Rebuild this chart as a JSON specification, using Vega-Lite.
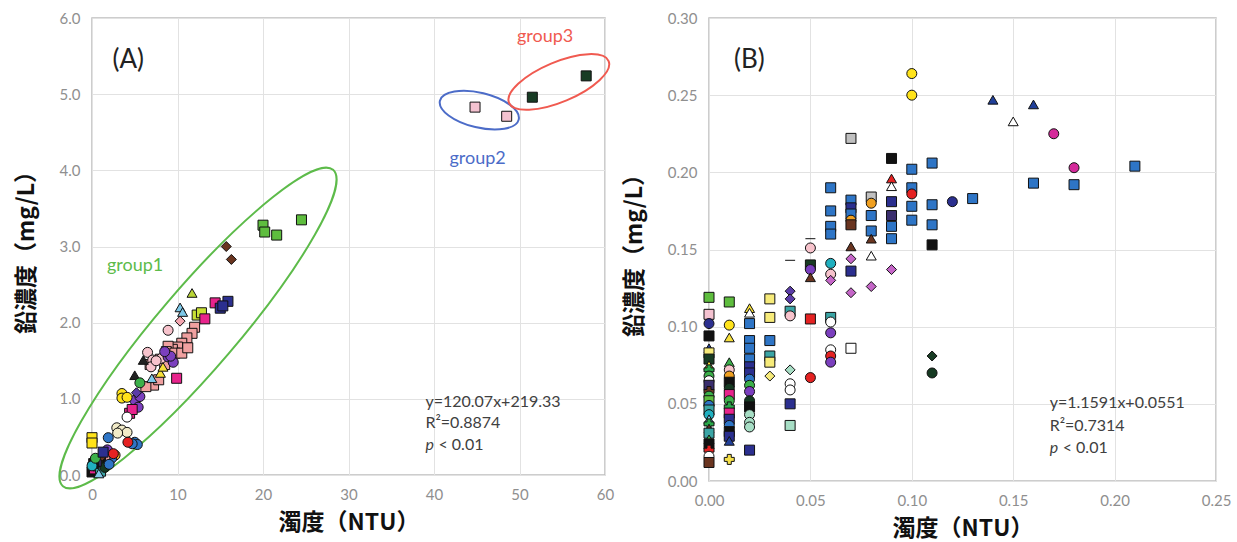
{
  "$schema": "https://vega.github.io/schema/vega-lite/v6.json",
  "padding": {"top": 10, "left": 14, "right": 5, "bottom": 3},
  "background": "white",
  "spacing": 7,
  "config": {
    "view": {"stroke": "#BDBDBD", "strokeWidth": 1.5},
    "axis": {
      "labelFont": "Lato", "labelFontSize": 15, "labelColor": "#8f8f8f", "labelFlush": false, "labelOverlap": false,
      "titleFont": "Noto Sans CJK JP", "titleFontSize": 23, "titleFontWeight": "bold", "titleColor": "#111111",
      "grid": true, "gridColor": "#E2E2E2", "domain": false, "ticks": false
    },
    "axisX": {"labelPadding": 12, "titlePadding": 9},
    "axisY": {"labelPadding": 12, "titlePadding": 21},
    "text": {"font": "Lato"}
  },
  "datasets": {
    "a": [
      {"x": 51.5, "y": 4.96, "s": "S8"}, {"x": 57.8, "y": 5.24, "s": "S8"},
      {"x": 44.8, "y": 4.83, "s": "S5"}, {"x": 48.5, "y": 4.71, "s": "S5"},
      {"x": 20.0, "y": 3.28, "s": "S3"}, {"x": 20.2, "y": 3.19, "s": "S3"}, {"x": 21.6, "y": 3.15, "s": "S3"}, {"x": 24.5, "y": 3.35, "s": "S3"},
      {"x": 15.7, "y": 3.0, "s": "S15"}, {"x": 16.3, "y": 2.83, "s": "S15"},
      {"x": 14.4, "y": 2.26, "s": "S6"}, {"x": 15.0, "y": 2.19, "s": "S7"}, {"x": 15.9, "y": 2.28, "s": "S7"}, {"x": 15.3, "y": 2.22, "s": "S7"},
      {"x": 11.7, "y": 2.39, "s": "S20"},
      {"x": 10.3, "y": 2.2, "s": "S22"}, {"x": 10.6, "y": 2.14, "s": "S22"},
      {"x": 12.3, "y": 2.1, "s": "S30"}, {"x": 12.8, "y": 2.13, "s": "S30"}, {"x": 13.2, "y": 2.05, "s": "S6"},
      {"x": 10.3, "y": 2.02, "s": "S45"},
      {"x": 12.0, "y": 1.94, "s": "S29"}, {"x": 11.7, "y": 1.86, "s": "S29"}, {"x": 11.1, "y": 1.8, "s": "S29"}, {"x": 10.5, "y": 1.73, "s": "S29"},
      {"x": 10.0, "y": 1.68, "s": "S29"}, {"x": 9.4, "y": 1.65, "s": "S29"}, {"x": 8.9, "y": 1.69, "s": "S29"}, {"x": 8.7, "y": 1.62, "s": "S29"},
      {"x": 9.7, "y": 1.6, "s": "S29"}, {"x": 10.5, "y": 1.6, "s": "S29"}, {"x": 11.2, "y": 1.67, "s": "S29"}, {"x": 8.0, "y": 1.52, "s": "S29"},
      {"x": 7.2, "y": 1.18, "s": "S29"}, {"x": 6.3, "y": 1.16, "s": "S29"}, {"x": 7.8, "y": 1.25, "s": "S29"}, {"x": 8.5, "y": 1.45, "s": "S29"}, {"x": 6.8, "y": 1.45, "s": "S29"},
      {"x": 8.9, "y": 1.9, "s": "S10"}, {"x": 6.5, "y": 1.61, "s": "S10"}, {"x": 7.1, "y": 1.51, "s": "S10"}, {"x": 8.1, "y": 1.53, "s": "S10"}, {"x": 6.9, "y": 1.42, "s": "S10"}, {"x": 7.5, "y": 1.5, "s": "S10"},
      {"x": 8.9, "y": 1.55, "s": "S13"}, {"x": 9.5, "y": 1.48, "s": "S13"}, {"x": 9.2, "y": 1.56, "s": "S13"}, {"x": 8.5, "y": 1.62, "s": "S13"},
      {"x": 5.0, "y": 0.98, "s": "S13"}, {"x": 5.4, "y": 0.89, "s": "S13"}, {"x": 5.6, "y": 1.03, "s": "S13"}, {"x": 5.2, "y": 1.08, "s": "S17"},
      {"x": 6.0, "y": 1.51, "s": "S36"}, {"x": 5.0, "y": 1.31, "s": "S36"},
      {"x": 8.0, "y": 1.34, "s": "S39"}, {"x": 8.3, "y": 1.42, "s": "S39"},
      {"x": 7.0, "y": 1.27, "s": "S22"}, {"x": 9.9, "y": 1.27, "s": "S6"}, {"x": 5.6, "y": 1.21, "s": "S41"},
      {"x": 3.5, "y": 1.07, "s": "S9"}, {"x": 3.5, "y": 1.01, "s": "S9"}, {"x": 4.1, "y": 1.02, "s": "S9"},
      {"x": 4.4, "y": 0.81, "s": "S6"}, {"x": 4.7, "y": 0.86, "s": "S6"}, {"x": 4.1, "y": 0.76, "s": "S11"},
      {"x": 2.9, "y": 0.62, "s": "S35"}, {"x": 3.5, "y": 0.59, "s": "S35"}, {"x": 4.1, "y": 0.56, "s": "S35"}, {"x": 3.0, "y": 0.55, "s": "S35"},
      {"x": 0.0, "y": 0.49, "s": "S46"}, {"x": 0.0, "y": 0.42, "s": "S46"},
      {"x": 1.9, "y": 0.49, "s": "S31"}, {"x": 5.0, "y": 0.43, "s": "S31"}, {"x": 5.3, "y": 0.4, "s": "S31"}, {"x": 4.7, "y": 0.41, "s": "S31"},
      {"x": 4.2, "y": 0.43, "s": "S12"},
      {"x": 1.8, "y": 0.33, "s": "S13"}, {"x": 2.7, "y": 0.26, "s": "S23"}, {"x": 2.3, "y": 0.22, "s": "S31"}, {"x": 1.5, "y": 0.2, "s": "S29"},
      {"x": 1.0, "y": 0.16, "s": "S2"}, {"x": 0.1, "y": 0.1, "s": "S2"}, {"x": 0.0, "y": 0.04, "s": "S2"}, {"x": 0.3, "y": 0.08, "s": "S6"},
      {"x": 0.7, "y": 0.12, "s": "S8"}, {"x": 1.0, "y": 0.05, "s": "S28"}, {"x": 1.5, "y": 0.1, "s": "S14"}, {"x": 2.0, "y": 0.14, "s": "S31"},
      {"x": 0.5, "y": 0.18, "s": "S37"}, {"x": 1.2, "y": 0.25, "s": "S15"}, {"x": 0.2, "y": 0.15, "s": "S2"}, {"x": 0.8, "y": 0.02, "s": "S22"},
      {"x": 2.5, "y": 0.28, "s": "S12"}, {"x": 0.0, "y": 0.12, "s": "S44"}, {"x": 0.4, "y": 0.22, "s": "S41"}, {"x": 1.3, "y": 0.3, "s": "S7"}
    ],
    "b": [
      {"x": 0.00, "y": 0.119, "s": "S3"}, {"x": 0.00, "y": 0.108, "s": "S5"}, {"x": 0.00, "y": 0.102, "s": "S51"}, {"x": 0.00, "y": 0.094, "s": "S2"},
      {"x": 0.00, "y": 0.086, "s": "S18"}, {"x": 0.00, "y": 0.083, "s": "S4"}, {"x": 0.00, "y": 0.079, "s": "S8"}, {"x": 0.00, "y": 0.075, "s": "S39"},
      {"x": 0.00, "y": 0.072, "s": "S32"}, {"x": 0.00, "y": 0.068, "s": "S41"}, {"x": 0.00, "y": 0.065, "s": "S11"}, {"x": 0.00, "y": 0.062, "s": "S37"},
      {"x": 0.00, "y": 0.058, "s": "S42"}, {"x": 0.00, "y": 0.055, "s": "S41"}, {"x": 0.00, "y": 0.052, "s": "S3"}, {"x": 0.00, "y": 0.049, "s": "S31"},
      {"x": 0.00, "y": 0.046, "s": "S28"}, {"x": 0.00, "y": 0.043, "s": "S44"}, {"x": 0.00, "y": 0.040, "s": "S22"}, {"x": 0.00, "y": 0.037, "s": "S32"},
      {"x": 0.00, "y": 0.034, "s": "S21"}, {"x": 0.00, "y": 0.031, "s": "S28"}, {"x": 0.00, "y": 0.027, "s": "S40"}, {"x": 0.00, "y": 0.024, "s": "S2"},
      {"x": 0.00, "y": 0.020, "s": "S43"}, {"x": 0.00, "y": 0.016, "s": "S11"}, {"x": 0.00, "y": 0.012, "s": "S53"},
      {"x": 0.01, "y": 0.116, "s": "S3"}, {"x": 0.01, "y": 0.101, "s": "S9"}, {"x": 0.01, "y": 0.093, "s": "S39"}, {"x": 0.01, "y": 0.077, "s": "S40"},
      {"x": 0.01, "y": 0.072, "s": "S10"}, {"x": 0.01, "y": 0.068, "s": "S23"}, {"x": 0.01, "y": 0.064, "s": "S2"}, {"x": 0.01, "y": 0.060, "s": "S14"},
      {"x": 0.01, "y": 0.056, "s": "S6"}, {"x": 0.01, "y": 0.052, "s": "S41"}, {"x": 0.01, "y": 0.048, "s": "S32"}, {"x": 0.01, "y": 0.044, "s": "S6"},
      {"x": 0.01, "y": 0.040, "s": "S7"}, {"x": 0.01, "y": 0.036, "s": "S31"}, {"x": 0.01, "y": 0.032, "s": "S2"}, {"x": 0.01, "y": 0.029, "s": "S7"},
      {"x": 0.01, "y": 0.026, "s": "S18"}, {"x": 0.01, "y": 0.014, "s": "S27"},
      {"x": 0.02, "y": 0.112, "s": "S39"}, {"x": 0.02, "y": 0.109, "s": "S19"}, {"x": 0.02, "y": 0.102, "s": "S1"}, {"x": 0.02, "y": 0.091, "s": "S1"},
      {"x": 0.02, "y": 0.086, "s": "S1"}, {"x": 0.02, "y": 0.079, "s": "S1"}, {"x": 0.02, "y": 0.074, "s": "S7"}, {"x": 0.02, "y": 0.070, "s": "S7"},
      {"x": 0.02, "y": 0.066, "s": "S31"}, {"x": 0.02, "y": 0.062, "s": "S41"}, {"x": 0.02, "y": 0.058, "s": "S13"}, {"x": 0.02, "y": 0.052, "s": "S14"},
      {"x": 0.02, "y": 0.048, "s": "S2"}, {"x": 0.02, "y": 0.043, "s": "S25"}, {"x": 0.02, "y": 0.038, "s": "S25"}, {"x": 0.02, "y": 0.035, "s": "S25"},
      {"x": 0.02, "y": 0.020, "s": "S7"},
      {"x": 0.03, "y": 0.118, "s": "S4"}, {"x": 0.03, "y": 0.106, "s": "S4"}, {"x": 0.03, "y": 0.091, "s": "S1"}, {"x": 0.03, "y": 0.081, "s": "S28"},
      {"x": 0.03, "y": 0.077, "s": "S4"}, {"x": 0.03, "y": 0.068, "s": "S34"},
      {"x": 0.04, "y": 0.143, "s": "S33"}, {"x": 0.04, "y": 0.123, "s": "S17"}, {"x": 0.04, "y": 0.118, "s": "S17"}, {"x": 0.04, "y": 0.110, "s": "S28"},
      {"x": 0.04, "y": 0.107, "s": "S10"}, {"x": 0.04, "y": 0.072, "s": "S38"}, {"x": 0.04, "y": 0.063, "s": "S11"}, {"x": 0.04, "y": 0.059, "s": "S11"},
      {"x": 0.04, "y": 0.050, "s": "S7"}, {"x": 0.04, "y": 0.036, "s": "S47"},
      {"x": 0.05, "y": 0.157, "s": "S33"}, {"x": 0.05, "y": 0.151, "s": "S10"}, {"x": 0.05, "y": 0.140, "s": "S8"}, {"x": 0.05, "y": 0.137, "s": "S13"},
      {"x": 0.05, "y": 0.132, "s": "S21"}, {"x": 0.05, "y": 0.105, "s": "S48"}, {"x": 0.05, "y": 0.067, "s": "S12"},
      {"x": 0.06, "y": 0.190, "s": "S1"}, {"x": 0.06, "y": 0.175, "s": "S1"}, {"x": 0.06, "y": 0.165, "s": "S1"}, {"x": 0.06, "y": 0.160, "s": "S1"},
      {"x": 0.06, "y": 0.141, "s": "S44"}, {"x": 0.06, "y": 0.134, "s": "S10"}, {"x": 0.06, "y": 0.130, "s": "S16"}, {"x": 0.06, "y": 0.106, "s": "S28"},
      {"x": 0.06, "y": 0.103, "s": "S11"}, {"x": 0.06, "y": 0.096, "s": "S13"}, {"x": 0.06, "y": 0.085, "s": "S11"}, {"x": 0.06, "y": 0.081, "s": "S12"},
      {"x": 0.06, "y": 0.077, "s": "S13"},
      {"x": 0.07, "y": 0.222, "s": "S24"}, {"x": 0.07, "y": 0.182, "s": "S1"}, {"x": 0.07, "y": 0.177, "s": "S7"}, {"x": 0.07, "y": 0.173, "s": "S1"},
      {"x": 0.07, "y": 0.169, "s": "S23"}, {"x": 0.07, "y": 0.166, "s": "S53"}, {"x": 0.07, "y": 0.152, "s": "S21"}, {"x": 0.07, "y": 0.144, "s": "S16"},
      {"x": 0.07, "y": 0.136, "s": "S7"}, {"x": 0.07, "y": 0.122, "s": "S16"}, {"x": 0.07, "y": 0.086, "s": "S49"},
      {"x": 0.08, "y": 0.184, "s": "S24"}, {"x": 0.08, "y": 0.180, "s": "S23"}, {"x": 0.08, "y": 0.172, "s": "S1"}, {"x": 0.08, "y": 0.162, "s": "S1"},
      {"x": 0.08, "y": 0.157, "s": "S21"}, {"x": 0.08, "y": 0.146, "s": "S19"}, {"x": 0.08, "y": 0.126, "s": "S16"},
      {"x": 0.09, "y": 0.209, "s": "S2"}, {"x": 0.09, "y": 0.196, "s": "S50"}, {"x": 0.09, "y": 0.191, "s": "S19"}, {"x": 0.09, "y": 0.181, "s": "S7"},
      {"x": 0.09, "y": 0.172, "s": "S37"}, {"x": 0.09, "y": 0.165, "s": "S1"}, {"x": 0.09, "y": 0.157, "s": "S1"}, {"x": 0.09, "y": 0.137, "s": "S16"},
      {"x": 0.10, "y": 0.264, "s": "S9"}, {"x": 0.10, "y": 0.250, "s": "S9"}, {"x": 0.10, "y": 0.202, "s": "S1"}, {"x": 0.10, "y": 0.190, "s": "S1"},
      {"x": 0.10, "y": 0.186, "s": "S12"}, {"x": 0.10, "y": 0.178, "s": "S1"}, {"x": 0.10, "y": 0.169, "s": "S1"},
      {"x": 0.11, "y": 0.206, "s": "S1"}, {"x": 0.11, "y": 0.179, "s": "S1"}, {"x": 0.11, "y": 0.166, "s": "S1"}, {"x": 0.11, "y": 0.153, "s": "S2"},
      {"x": 0.11, "y": 0.081, "s": "S26"}, {"x": 0.11, "y": 0.070, "s": "S14"},
      {"x": 0.12, "y": 0.181, "s": "S51"}, {"x": 0.13, "y": 0.183, "s": "S1"},
      {"x": 0.14, "y": 0.247, "s": "S18"}, {"x": 0.15, "y": 0.233, "s": "S19"}, {"x": 0.16, "y": 0.244, "s": "S18"}, {"x": 0.16, "y": 0.193, "s": "S1"},
      {"x": 0.17, "y": 0.225, "s": "S52"}, {"x": 0.18, "y": 0.203, "s": "S52"}, {"x": 0.18, "y": 0.192, "s": "S1"}, {"x": 0.21, "y": 0.204, "s": "S1"}
    ]
  },
  "hconcat": [
    {
      "width": 513,
      "height": 457,
      "encoding": {
        "x": {"field": "x", "type": "quantitative", "title": "濁度（NTU）",
              "scale": {"domain": [0, 60], "nice": false, "zero": false},
              "axis": {"values": [0, 10, 20, 30, 40, 50, 60], "format": "d"}},
        "y": {"field": "y", "type": "quantitative", "title": "鉛濃度（mg/L）",
              "scale": {"domain": [0, 6], "nice": false, "zero": false},
              "axis": {"values": [0, 1, 2, 3, 4, 5, 6], "format": ".1f"}}
      },
      "layer": [
        {
          "data": {"values": [{"x": 12.4, "y": 1.93}]},
          "mark": {"type": "point", "filled": false, "opacity": 1, "stroke": "#5DBB4A", "strokeWidth": 2, "size": 173056, "angle": 310.5,
                   "shape": "M-1 0C-1 -0.106 -0.552 -0.192 0 -0.192C0.552 -0.192 1 -0.106 1 0C1 0.106 0.552 0.192 0 0.192C-0.552 0.192 -1 0.106 -1 0Z"}
        },
        {
          "data": {"values": [{"x": 45.3, "y": 4.79}]},
          "mark": {"type": "point", "filled": false, "opacity": 1, "stroke": "#4C6CC8", "strokeWidth": 2, "size": 6561, "angle": 13.5,
                   "shape": "M-1 0C-1 -0.2375 -0.552 -0.43 0 -0.43C0.552 -0.43 1 -0.2375 1 0C1 0.2375 0.552 0.43 0 0.43C-0.552 0.43 -1 0.2375 -1 0Z"}
        },
        {
          "data": {"values": [{"x": 54.6, "y": 5.16}]},
          "mark": {"type": "point", "filled": false, "opacity": 1, "stroke": "#F05A50", "strokeWidth": 2, "size": 11664, "angle": 337.2,
                   "shape": "M-1 0C-1 -0.204 -0.552 -0.37 0 -0.37C0.552 -0.37 1 -0.204 1 0C1 0.204 0.552 0.37 0 0.37C-0.552 0.37 -1 0.204 -1 0Z"}
        },
        {
          "data": {"name": "a"},
          "mark": {"type": "point", "filled": true, "opacity": 1, "stroke": "#111111", "strokeWidth": 1, "size": 100},
          "encoding": {
            "fill": {"field": "s", "type": "nominal", "legend": null,
              "scale": {"domain": ["S1","S2","S3","S4","S5","S6","S7","S8","S9","S10","S11","S12","S13","S14","S15","S16","S17","S18","S19","S20","S21","S22","S23","S24","S25","S26","S27","S28","S29","S30","S31","S32","S33","S34","S35","S36","S37","S38","S39","S40","S41","S42","S43","S44","S45","S46","S47","S48","S49","S50","S51","S52","S53"],
                        "range": ["#2E75C6","#111111","#5EBD3E","#F7EB7A","#F4C2D0","#E8238C","#2B2F8F","#183C24","#FFE31A","#F7C3CC","#FFFFFF","#E52222","#7B3FBE","#163A22","#6A3520","#C566C8","#5B3CA8","#21409A","#FFFFFF","#B9D535","#6A3520","#7EC8E8","#F0A020","#C0C0C0","#A7DEC5","#183C24","#F5E04A","#3BA5A5","#F0A0A0","#C8E034","#2E75C6","#2AA84A","#2E6B3A","#F7EB7A","#F2EBC8","#222222","#3A2E6E","#A7DEC5","#F7E03A","#3CB04A","#3CB04A","#6A3520","#E52222","#20B0C0","#F4A6B0","#FFE31A","#A7DEC5","#E52222","#FFFFFF","#E52222","#2B2F8F","#D42A9A","#6A3520"]}},
            "shape": {"field": "s", "type": "nominal", "legend": null,
              "scale": {"domain": ["S1","S2","S3","S4","S5","S6","S7","S8","S9","S10","S11","S12","S13","S14","S15","S16","S17","S18","S19","S20","S21","S22","S23","S24","S25","S26","S27","S28","S29","S30","S31","S32","S33","S34","S35","S36","S37","S38","S39","S40","S41","S42","S43","S44","S45","S46","S47","S48","S49","S50","S51","S52","S53"],
                        "range": ["square","square","square","square","square","square","square","square","circle","circle","circle","circle","circle","circle","diamond","diamond","diamond","triangle-up","triangle-up","triangle-up","triangle-up","triangle-up","circle","square","circle","diamond","cross","square","square","square","circle","cross","stroke","diamond","circle","triangle-up","square","diamond","triangle-up","triangle-up","circle","cross","cross","circle","diamond","square","square","square","square","triangle-up","circle","circle","square"]}}
          }
        },
        {
          "data": {"values": [{"x": 1.75, "y": 2.74, "t": "group1"}]},
          "mark": {"type": "text", "align": "left", "baseline": "middle", "fontSize": 18, "color": "#5DBB4A"},
          "encoding": {"text": {"field": "t"}}
        },
        {
          "data": {"values": [{"x": 41.8, "y": 4.15, "t": "group2"}]},
          "mark": {"type": "text", "align": "left", "baseline": "middle", "fontSize": 18, "color": "#4C6CC8"},
          "encoding": {"text": {"field": "t"}}
        },
        {
          "data": {"values": [{"x": 49.7, "y": 5.75, "t": "group3"}]},
          "mark": {"type": "text", "align": "left", "baseline": "middle", "fontSize": 18, "color": "#F05A50"},
          "encoding": {"text": {"field": "t"}}
        },
        {
          "data": {"values": [{"x": 2.4, "y": 5.45, "t": "(A)"}]},
          "mark": {"type": "text", "align": "left", "baseline": "middle", "fontSize": 26, "color": "#222222"},
          "encoding": {"text": {"field": "t"}}
        },
        {
          "data": {"values": [{"x": 39.0, "y": 0.96, "t": "y=120.07x+219.33"}, {"x": 39.0, "y": 0.68, "t": "R²=0.8874"}]},
          "mark": {"type": "text", "align": "left", "baseline": "middle", "fontSize": 16, "color": "#404040"},
          "encoding": {"text": {"field": "t"}}
        },
        {
          "data": {"values": [{"x": 39.0, "y": 0.39, "t": "< 0.01"}]},
          "mark": {"type": "text", "align": "left", "baseline": "middle", "fontSize": 16, "color": "#404040", "dx": 13},
          "encoding": {"text": {"field": "t"}}
        },
        {
          "data": {"values": [{"x": 39.0, "y": 0.39, "t": "p"}]},
          "mark": {"type": "text", "align": "left", "baseline": "middle", "fontSize": 16, "fontStyle": "italic", "color": "#404040"},
          "encoding": {"text": {"field": "t"}}
        }
      ]
    },
    {
      "width": 507,
      "height": 463,
      "encoding": {
        "x": {"field": "x", "type": "quantitative", "title": "濁度（NTU）",
              "scale": {"domain": [0, 0.25], "nice": false, "zero": false},
              "axis": {"values": [0, 0.05, 0.1, 0.15, 0.2, 0.25], "format": ".2f"}},
        "y": {"field": "y", "type": "quantitative", "title": "鉛濃度（mg/L）",
              "scale": {"domain": [0, 0.3], "nice": false, "zero": false},
              "axis": {"values": [0, 0.05, 0.1, 0.15, 0.2, 0.25, 0.3], "format": ".2f"}}
      },
      "layer": [
        {
          "data": {"name": "b"},
          "mark": {"type": "point", "filled": true, "opacity": 1, "stroke": "#111111", "strokeWidth": 1, "size": 100},
          "encoding": {
            "fill": {"field": "s", "type": "nominal", "legend": null,
              "scale": {"domain": ["S1","S2","S3","S4","S5","S6","S7","S8","S9","S10","S11","S12","S13","S14","S15","S16","S17","S18","S19","S20","S21","S22","S23","S24","S25","S26","S27","S28","S29","S30","S31","S32","S33","S34","S35","S36","S37","S38","S39","S40","S41","S42","S43","S44","S45","S46","S47","S48","S49","S50","S51","S52","S53"],
                        "range": ["#2E75C6","#111111","#5EBD3E","#F7EB7A","#F4C2D0","#E8238C","#2B2F8F","#183C24","#FFE31A","#F7C3CC","#FFFFFF","#E52222","#7B3FBE","#163A22","#6A3520","#C566C8","#5B3CA8","#21409A","#FFFFFF","#B9D535","#6A3520","#7EC8E8","#F0A020","#C0C0C0","#A7DEC5","#183C24","#F5E04A","#3BA5A5","#F0A0A0","#C8E034","#2E75C6","#2AA84A","#2E6B3A","#F7EB7A","#F2EBC8","#222222","#3A2E6E","#A7DEC5","#F7E03A","#3CB04A","#3CB04A","#6A3520","#E52222","#20B0C0","#F4A6B0","#FFE31A","#A7DEC5","#E52222","#FFFFFF","#E52222","#2B2F8F","#D42A9A","#6A3520"]}},
            "shape": {"field": "s", "type": "nominal", "legend": null,
              "scale": {"domain": ["S1","S2","S3","S4","S5","S6","S7","S8","S9","S10","S11","S12","S13","S14","S15","S16","S17","S18","S19","S20","S21","S22","S23","S24","S25","S26","S27","S28","S29","S30","S31","S32","S33","S34","S35","S36","S37","S38","S39","S40","S41","S42","S43","S44","S45","S46","S47","S48","S49","S50","S51","S52","S53"],
                        "range": ["square","square","square","square","square","square","square","square","circle","circle","circle","circle","circle","circle","diamond","diamond","diamond","triangle-up","triangle-up","triangle-up","triangle-up","triangle-up","circle","square","circle","diamond","cross","square","square","square","circle","cross","stroke","diamond","circle","triangle-up","square","diamond","triangle-up","triangle-up","circle","cross","cross","circle","diamond","square","square","square","square","triangle-up","circle","circle","square"]}}
          }
        },
        {
          "data": {"values": [{"x": 0.0123, "y": 0.273, "t": "(B)"}]},
          "mark": {"type": "text", "align": "left", "baseline": "middle", "fontSize": 26, "color": "#222222"},
          "encoding": {"text": {"field": "t"}}
        },
        {
          "data": {"values": [{"x": 0.168, "y": 0.0504, "t": "y=1.1591x+0.0551"}, {"x": 0.168, "y": 0.0358, "t": "R²=0.7314"}]},
          "mark": {"type": "text", "align": "left", "baseline": "middle", "fontSize": 16, "color": "#404040"},
          "encoding": {"text": {"field": "t"}}
        },
        {
          "data": {"values": [{"x": 0.168, "y": 0.0213, "t": "< 0.01"}]},
          "mark": {"type": "text", "align": "left", "baseline": "middle", "fontSize": 16, "color": "#404040", "dx": 13},
          "encoding": {"text": {"field": "t"}}
        },
        {
          "data": {"values": [{"x": 0.168, "y": 0.0213, "t": "p"}]},
          "mark": {"type": "text", "align": "left", "baseline": "middle", "fontSize": 16, "fontStyle": "italic", "color": "#404040"},
          "encoding": {"text": {"field": "t"}}
        }
      ]
    }
  ]
}
